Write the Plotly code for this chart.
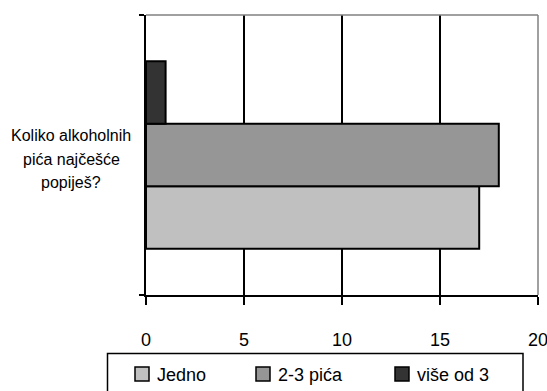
import plotly.graph_objects as go

category_lines = ["Koliko alkoholnih", "pića najčešće", "popiješ?"]
series_names = ["Jedno", "2-3 pića", "više od 3"]
series_values = [17, 18, 1]
series_colors = ["#C0C0C0", "#969696", "#333333"]
x_ticks = [0, 5, 10, 15, 20]

FONT = "Liberation Sans, Arial, sans-serif"
PW, PH, L, T = 392, 280, 146, 15
legend_marker_left = [135, 256, 395]   # pixel layout of the legend entries
legend_center_y = 374


def px_x(p):
    return (p - L) / PW


def px_y(p):
    return (T + PH - p) / PH


fig = go.Figure()
for name, val, col in zip(series_names, series_values, series_colors):
    fig.add_trace(go.Bar(
        y=[0], x=[val], name=name, orientation="h", showlegend=False,
        marker=dict(color=col, line=dict(color="#000000", width=2)),
    ))

fig.update_layout(
    width=547, height=391,
    margin=dict(l=L, r=547 - L - PW, t=T, b=391 - T - PH, autoexpand=False),
    paper_bgcolor="white", plot_bgcolor="white",
    barmode="group", bargap=0.33, bargroupgap=0,
    font=dict(family=FONT, size=18, color="black"),
    showlegend=False,
    xaxis=dict(
        range=[0, 20], tickvals=x_ticks, ticktext=[str(t) for t in x_ticks],
        showgrid=True, gridcolor="black", gridwidth=1.5,
        showline=True, linecolor="black", linewidth=2,
        ticks="outside", ticklen=8, tickwidth=2, tickcolor="black",
        ticklabelstandoff=19, ticklabeloverflow="allow", automargin=False,
        zeroline=False, fixedrange=True,
    ),
    yaxis=dict(
        range=[-0.5, 0.5], tickvals=[-0.5, 0.5], showticklabels=False,
        showgrid=False, zeroline=False,
        showline=True, linecolor="black", linewidth=2,
        ticks="outside", ticklen=5, tickwidth=2, tickcolor="black",
        fixedrange=True,
    ),
)

# plot area border (top and right), gray
fig.add_shape(type="line", xref="paper", yref="paper", x0=0, x1=1, y0=1, y1=1,
              line=dict(color="#808080", width=1.5), layer="above")
fig.add_shape(type="line", xref="paper", yref="paper", x0=1, x1=1, y0=0, y1=1,
              line=dict(color="#808080", width=1.5), layer="above")
# legend frame
fig.add_shape(type="rect", xref="paper", yref="paper",
              x0=px_x(107.5), x1=px_x(523), y0=px_y(353.5), y1=px_y(398),
              line=dict(color="black", width=1.5), fillcolor="rgba(0,0,0,0)",
              layer="above")
# legend entries
for name, col, mx in zip(series_names, series_colors, legend_marker_left):
    fig.add_shape(type="rect", xref="paper", yref="paper",
                  x0=px_x(mx), x1=px_x(mx + 14),
                  y0=px_y(legend_center_y - 7), y1=px_y(legend_center_y + 7),
                  line=dict(color="black", width=1.5), fillcolor=col, layer="above")
    fig.add_annotation(
        text=name, xref="paper", yref="paper",
        x=px_x(mx + 21), y=px_y(legend_center_y + 1),
        xanchor="left", yanchor="middle", showarrow=False,
        font=dict(family=FONT, size=18, color="black"),
        borderpad=0,
    )

line_y = [135, 159, 182]
for txt, py in zip(category_lines, line_y):
    fig.add_annotation(
        text=txt, xref="paper", yref="paper",
        x=px_x(71), y=px_y(py),
        xanchor="center", yanchor="middle", showarrow=False,
        font=dict(family=FONT, size=16, color="black"),
    )

fig.write_html("out.html")
